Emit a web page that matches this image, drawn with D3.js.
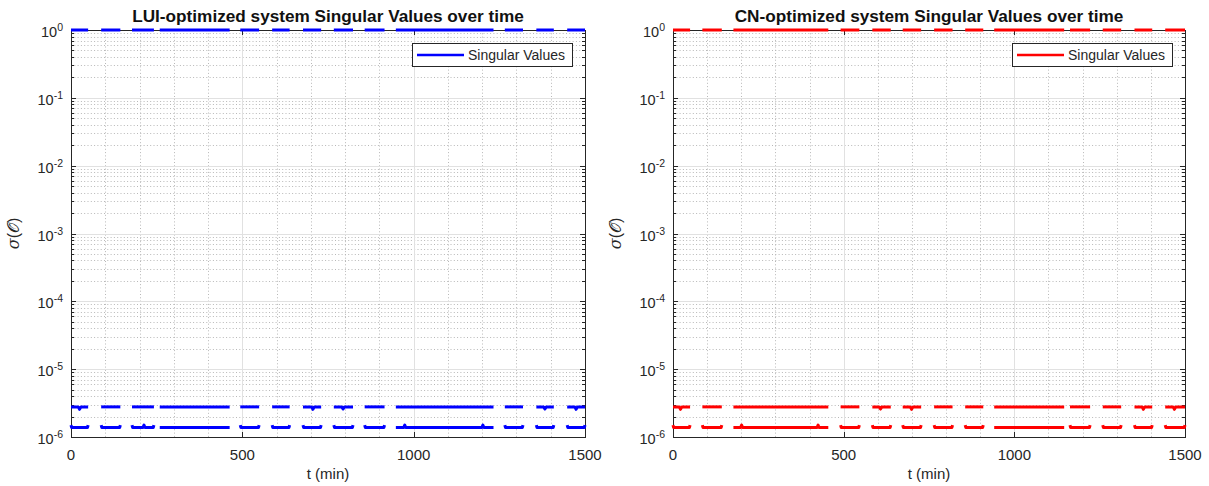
<!DOCTYPE html>
<html>
<head>
<meta charset="utf-8">
<script src="https://cdn.jsdelivr.net/npm/d3@7"></script>
<style>
  body { margin: 0; background: #fff; }
  text { font-family: "Liberation Sans", Arial, sans-serif; }
</style>
</head>
<body>
<script>
const WIDTH = 1209
const HEIGHT = 486

// time axis and log sigma axis
const timeDomain = [0, 1500]
const timeTicks = [0, 500, 1000, 1500]
const timeMinor = [100, 200, 300, 400, 600, 700, 800, 900, 1100, 1200, 1300, 1400]
const sigmaDomain = [1e-6, 1]
const sigmaExponents = [0, -1, -2, -3, -4, -5, -6]

// LUI-optimized run: three singular values, one list of [t, sigma] per recorded stretch
const luiSigma1 = [
    [[0, 1], [50, 1]],
    [[88, 1], [144, 1]],
    [[178, 1], [242, 1]],
    [[259, 1], [463, 1]],
    [[494, 1], [549, 1]],
    [[587, 1], [638, 1]],
    [[677, 1], [730, 1]],
    [[767, 1], [823, 1]],
    [[857, 1], [915, 1]],
    [[948, 1], [1233, 1]],
    [[1266, 1], [1319, 1]],
    [[1358, 1], [1409, 1]],
    [[1448, 1], [1500, 1]]
]
const luiSigma2 = [
    [[0, 2.78e-6], [21, 2.78e-6], [25, 2.56e-6], [29, 2.78e-6], [50, 2.78e-6]],
    [[88, 2.78e-6], [144, 2.78e-6]],
    [[178, 2.78e-6], [242, 2.78e-6]],
    [[259, 2.78e-6], [463, 2.78e-6]],
    [[494, 2.78e-6], [549, 2.78e-6]],
    [[587, 2.78e-6], [638, 2.78e-6]],
    [[677, 2.78e-6], [702, 2.78e-6], [706, 2.56e-6], [710, 2.78e-6], [730, 2.78e-6]],
    [[767, 2.78e-6], [790, 2.78e-6], [794, 2.58e-6], [798, 2.78e-6], [823, 2.78e-6]],
    [[857, 2.78e-6], [915, 2.78e-6]],
    [[948, 2.78e-6], [1233, 2.78e-6]],
    [[1266, 2.78e-6], [1319, 2.78e-6]],
    [[1358, 2.78e-6], [1379, 2.78e-6], [1383, 2.58e-6], [1387, 2.78e-6], [1409, 2.78e-6]],
    [[1448, 2.78e-6], [1470, 2.78e-6], [1474, 2.56e-6], [1478, 2.78e-6], [1500, 2.78e-6]]
]
const luiSigma3 = [
    [[0, 1.5e-6], [2, 1.38e-6], [48, 1.38e-6], [50, 1.5e-6]],
    [[88, 1.5e-6], [90, 1.38e-6], [142, 1.38e-6], [144, 1.5e-6]],
    [[178, 1.5e-6], [180, 1.38e-6], [210, 1.38e-6], [213, 1.5e-6], [216, 1.38e-6], [240, 1.38e-6], [242, 1.5e-6]],
    [[259, 1.38e-6], [463, 1.38e-6]],
    [[494, 1.5e-6], [496, 1.38e-6], [547, 1.38e-6], [549, 1.5e-6]],
    [[587, 1.5e-6], [589, 1.38e-6], [636, 1.38e-6], [638, 1.5e-6]],
    [[677, 1.5e-6], [679, 1.38e-6], [728, 1.38e-6], [730, 1.5e-6]],
    [[767, 1.5e-6], [769, 1.38e-6], [821, 1.38e-6], [823, 1.5e-6]],
    [[857, 1.5e-6], [859, 1.38e-6], [913, 1.38e-6], [915, 1.5e-6]],
    [[948, 1.38e-6], [971, 1.38e-6], [974, 1.5e-6], [977, 1.38e-6], [1199, 1.38e-6], [1202, 1.5e-6], [1205, 1.38e-6], [1233, 1.38e-6]],
    [[1266, 1.5e-6], [1268, 1.38e-6], [1317, 1.38e-6], [1319, 1.5e-6]],
    [[1358, 1.5e-6], [1360, 1.38e-6], [1407, 1.38e-6], [1409, 1.5e-6]],
    [[1448, 1.5e-6], [1450, 1.38e-6], [1498, 1.38e-6], [1500, 1.5e-6]]
]

// CN-optimized run
const cnSigma1 = [
    [[0, 1], [50, 1]],
    [[86, 1], [143, 1]],
    [[177, 1], [455, 1]],
    [[491, 1], [546, 1]],
    [[584, 1], [638, 1]],
    [[673, 1], [727, 1]],
    [[765, 1], [819, 1]],
    [[856, 1], [909, 1]],
    [[941, 1], [1146, 1]],
    [[1163, 1], [1222, 1]],
    [[1259, 1], [1313, 1]],
    [[1352, 1], [1404, 1]],
    [[1442, 1], [1500, 1]]
]
const cnSigma2 = [
    [[0, 2.78e-6], [18, 2.78e-6], [22, 2.56e-6], [26, 2.78e-6], [50, 2.78e-6]],
    [[86, 2.78e-6], [143, 2.78e-6]],
    [[177, 2.78e-6], [455, 2.78e-6]],
    [[491, 2.78e-6], [546, 2.78e-6]],
    [[584, 2.78e-6], [604, 2.78e-6], [608, 2.58e-6], [612, 2.78e-6], [638, 2.78e-6]],
    [[673, 2.78e-6], [695, 2.78e-6], [699, 2.56e-6], [703, 2.78e-6], [727, 2.78e-6]],
    [[765, 2.78e-6], [819, 2.78e-6]],
    [[856, 2.78e-6], [909, 2.78e-6]],
    [[941, 2.78e-6], [1146, 2.78e-6]],
    [[1163, 2.78e-6], [1222, 2.78e-6]],
    [[1259, 2.78e-6], [1313, 2.78e-6]],
    [[1352, 2.78e-6], [1374, 2.78e-6], [1378, 2.56e-6], [1382, 2.78e-6], [1404, 2.78e-6]],
    [[1442, 2.78e-6], [1465, 2.78e-6], [1469, 2.56e-6], [1473, 2.78e-6], [1500, 2.78e-6]]
]
const cnSigma3 = [
    [[0, 1.5e-6], [2, 1.38e-6], [48, 1.38e-6], [50, 1.5e-6]],
    [[86, 1.5e-6], [88, 1.38e-6], [141, 1.38e-6], [143, 1.5e-6]],
    [[177, 1.38e-6], [198, 1.38e-6], [201, 1.5e-6], [204, 1.38e-6], [422, 1.38e-6], [425, 1.5e-6], [428, 1.38e-6], [455, 1.38e-6]],
    [[491, 1.5e-6], [493, 1.38e-6], [544, 1.38e-6], [546, 1.5e-6]],
    [[584, 1.5e-6], [586, 1.38e-6], [636, 1.38e-6], [638, 1.5e-6]],
    [[673, 1.5e-6], [675, 1.38e-6], [725, 1.38e-6], [727, 1.5e-6]],
    [[765, 1.5e-6], [767, 1.38e-6], [817, 1.38e-6], [819, 1.5e-6]],
    [[856, 1.5e-6], [858, 1.38e-6], [907, 1.38e-6], [909, 1.5e-6]],
    [[941, 1.38e-6], [1146, 1.38e-6]],
    [[1163, 1.5e-6], [1165, 1.38e-6], [1220, 1.38e-6], [1222, 1.5e-6]],
    [[1259, 1.5e-6], [1261, 1.38e-6], [1311, 1.38e-6], [1313, 1.5e-6]],
    [[1352, 1.5e-6], [1354, 1.38e-6], [1402, 1.38e-6], [1404, 1.5e-6]],
    [[1442, 1.5e-6], [1444, 1.38e-6], [1498, 1.38e-6], [1500, 1.5e-6]]
]

const panels = [
    {title: "LUI-optimized system Singular Values over time", color: "#0000ff",
        left: 71, right: 585, series: [luiSigma1, luiSigma2, luiSigma3]},
    {title: "CN-optimized system Singular Values over time", color: "#ff0000",
        left: 673, right: 1185, series: [cnSigma1, cnSigma2, cnSigma3]}
]
const TOP = 30
const BOTTOM = 437
const AXIS_COLOR = "#262626"

const svg = d3.select("body").append("svg")
    .attr("width", WIDTH)
    .attr("height", HEIGHT)
    .style("background", "#fff")

const y = d3.scaleLog().domain(sigmaDomain).range([BOTTOM, TOP])
const minorSigma = []
sigmaExponents.slice(1).forEach(e => {
    for (let m = 2; m <= 9; m++) minorSigma.push(m * Math.pow(10, e))
})

panels.forEach(p => drawPanel(p))

function drawPanel(p) {
    const x = d3.scaleLinear().domain(timeDomain).range([p.left, p.right])
    const g = svg.append("g")

    // minor grid, dotted
    const minor = g.append("g")
        .attr("stroke", "#b0b0b0")
        .attr("stroke-width", 0.9)
        .attr("stroke-dasharray", "1,2.3")
    minor.selectAll("line.ym")
        .data(minorSigma)
        .join("line")
        .attr("x1", p.left).attr("x2", p.right)
        .attr("y1", d => Math.round(y(d)) + 0.5).attr("y2", d => Math.round(y(d)) + 0.5)
    minor.selectAll("line.xm")
        .data(timeMinor)
        .join("line")
        .attr("x1", d => Math.round(x(d)) + 0.5).attr("x2", d => Math.round(x(d)) + 0.5)
        .attr("y1", TOP).attr("y2", BOTTOM)

    // major grid
    const major = g.append("g")
        .attr("stroke", "#e1e1e1")
        .attr("stroke-width", 1)
    major.selectAll("line.y")
        .data(sigmaExponents.slice(1, -1))
        .join("line")
        .attr("x1", p.left).attr("x2", p.right)
        .attr("y1", d => Math.round(y(Math.pow(10, d))) + 0.5)
        .attr("y2", d => Math.round(y(Math.pow(10, d))) + 0.5)
    major.selectAll("line.x")
        .data(timeTicks.slice(1, -1))
        .join("line")
        .attr("x1", d => Math.round(x(d)) + 0.5).attr("x2", d => Math.round(x(d)) + 0.5)
        .attr("y1", TOP).attr("y2", BOTTOM)

    // axes box with inward ticks
    const axes = g.append("g")
        .attr("stroke", AXIS_COLOR)
        .attr("stroke-width", 1)
    axes.append("rect")
        .attr("x", p.left + 0.5).attr("y", TOP + 0.5)
        .attr("width", p.right - p.left).attr("height", BOTTOM - TOP)
        .attr("fill", "none")
    timeTicks.slice(1, -1).forEach(t => {
        const xx = Math.round(x(t)) + 0.5
        axes.append("line").attr("x1", xx).attr("x2", xx).attr("y1", BOTTOM).attr("y2", BOTTOM - 5)
        axes.append("line").attr("x1", xx).attr("x2", xx).attr("y1", TOP).attr("y2", TOP + 5)
    })
    sigmaExponents.forEach(e => {
        const yy = Math.round(y(Math.pow(10, e))) + 0.5
        axes.append("line").attr("x1", p.left).attr("x2", p.left + 5).attr("y1", yy).attr("y2", yy)
        axes.append("line").attr("x1", p.right).attr("x2", p.right - 5).attr("y1", yy).attr("y2", yy)
    })
    minorSigma.forEach(s => {
        const yy = Math.round(y(s)) + 0.5
        axes.append("line").attr("x1", p.left).attr("x2", p.left + 3).attr("y1", yy).attr("y2", yy)
        axes.append("line").attr("x1", p.right).attr("x2", p.right - 3).attr("y1", yy).attr("y2", yy)
    })

    // tick labels
    g.selectAll("text.xt")
        .data(timeTicks)
        .join("text")
        .attr("x", d => x(d))
        .attr("y", 460)
        .attr("text-anchor", "middle")
        .attr("font-size", 15)
        .attr("fill", AXIS_COLOR)
        .text(d => d)
    const yt = g.selectAll("text.yt")
        .data(sigmaExponents)
        .join("text")
        .attr("x", p.left - 8)
        .attr("y", d => y(Math.pow(10, d)) + 7)
        .attr("text-anchor", "end")
        .attr("font-size", 14.5)
        .attr("fill", AXIS_COLOR)
    yt.append("tspan").text("10")
    yt.append("tspan")
        .attr("dy", -6)
        .attr("font-size", 10.5)
        .text(d => d === 0 ? "0" : "-" + Math.abs(d))

    // axis labels and title
    const cx = (p.left + p.right) / 2
    g.append("text")
        .attr("x", cx).attr("y", 479)
        .attr("text-anchor", "middle")
        .attr("font-size", 15)
        .attr("fill", AXIS_COLOR)
        .text("t (min)")
    const yl = g.append("text")
        .attr("transform", `translate(${p.left - 52},${(TOP + BOTTOM) / 2}) rotate(-90)`)
        .attr("text-anchor", "middle")
        .attr("font-size", 16)
        .attr("fill", AXIS_COLOR)
    yl.append("tspan").attr("font-style", "italic").attr("font-family", "DejaVu Serif, serif").text("σ")
    yl.append("tspan").text("(")
    yl.append("tspan").attr("font-family", "DejaVu Serif, 'DejaVu Sans', serif").text("𝒪")
    yl.append("tspan").text(")")
    g.append("text")
        .attr("x", cx).attr("y", 21.5)
        .attr("text-anchor", "middle")
        .attr("font-size", 17.2)
        .attr("font-weight", "bold")
        .attr("fill", "#111")
        .text(p.title)

    // singular value traces, broken where no samples were recorded
    const line = d3.line()
        .x(d => x(d[0]))
        .y(d => y(d[1]))
    p.series.forEach(s => {
        g.append("g")
            .selectAll("path")
            .data(s)
            .join("path")
            .attr("d", line)
            .attr("fill", "none")
            .attr("stroke", p.color)
            .attr("stroke-width", 3)
            .attr("stroke-linejoin", "round")
    })

    // legend
    const lx = p.right - 173
    const lg = g.append("g")
    lg.append("rect")
        .attr("x", lx + 0.5).attr("y", 43.5)
        .attr("width", 160).attr("height", 23)
        .attr("fill", "#fff")
        .attr("stroke", AXIS_COLOR)
        .attr("stroke-width", 1)
    lg.append("line")
        .attr("x1", lx + 5).attr("x2", lx + 52)
        .attr("y1", 55).attr("y2", 55)
        .attr("stroke", p.color)
        .attr("stroke-width", 2.5)
    lg.append("text")
        .attr("x", lx + 56).attr("y", 60)
        .attr("font-size", 14)
        .attr("fill", AXIS_COLOR)
        .text("Singular Values")
}
</script>
</body>
</html>
